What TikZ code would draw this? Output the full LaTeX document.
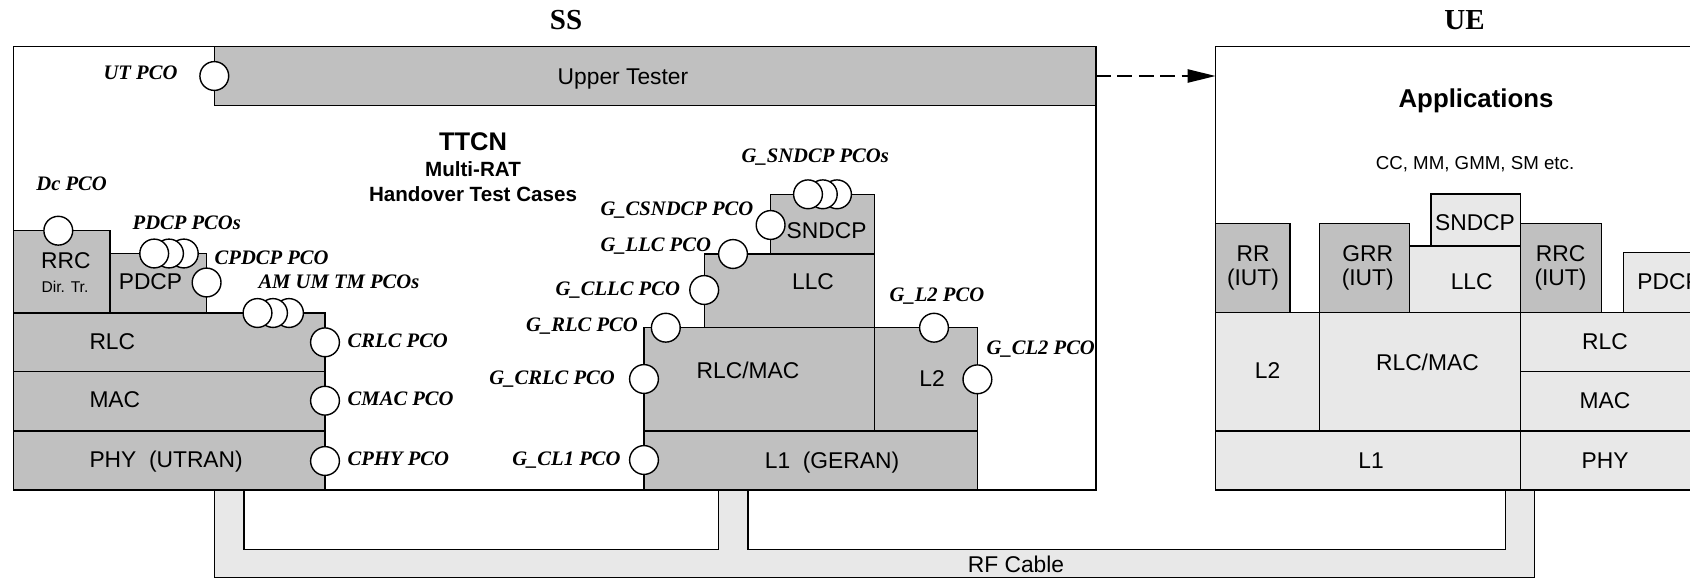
\documentclass[tikz,border=0pt]{standalone}
\usepackage{fontspec}
\setmainfont{Liberation Serif}
\newfontfamily\arialf{Liberation Sans}
\newfontfamily\timesf{Liberation Serif}
\usetikzlibrary{arrows.meta}
\definecolor{dg}{HTML}{C0C0C0}
\definecolor{lg}{HTML}{E8E8E8}
\begin{document}
\begin{tikzpicture}[x=0.5pt,y=-0.5pt,line width=0.7pt,
  lay/.style={draw=black,line width=0.7pt},
  lab/.style={font=\arialf\fontsize{11.4}{13.5}\selectfont,inner sep=0pt,text height=8.15pt,text depth=0pt},
  small/.style={font=\arialf\fontsize{7.8}{9}\selectfont,inner sep=0pt,text height=5.6pt,text depth=0pt},
  pco/.style={font=\timesf\bfseries\itshape\fontsize{10.3}{12}\selectfont,inner sep=0pt,text height=6.8pt,text depth=0pt,anchor=west},
  pc/.style={circle,draw=black,fill=white,inner sep=0pt,minimum size=14.4pt,line width=0.7pt},
  ttl/.style={font=\timesf\bfseries\fontsize{14.5}{17}\selectfont,inner sep=0pt,text height=9.6pt,text depth=0pt},
  bsans/.style={font=\arialf\bfseries\fontsize{10.3}{12}\selectfont,inner sep=0pt,text height=7.4pt,text depth=0pt},
]
\useasboundingbox (0,0) rectangle (1690,579);
% RF cable band
\fill[lg] (214.3,490) -- (214.3,577.7) -- (1534.6,577.7) -- (1534.6,490) -- (1505.7,490) -- (1505.7,549.3) -- (748,549.3) -- (748,490) -- (718.4,490) -- (718.4,549.3) -- (244,549.3) -- (244,490) -- cycle;
\draw (214.3,490) -- (214.3,577.7) -- (1534.6,577.7) -- (1534.6,490);
\draw (1505.7,490) -- (1505.7,549.3) -- (748,549.3) -- (748,490);
\draw (718.4,490) -- (718.4,549.3) -- (244,549.3) -- (244,490);
\node[lab] (rf) at (1016,564.3) {RF Cable};
% outer boxes
\draw[lay,fill=white] (13.2,46.7) rectangle (1096,490);
\draw[lay,fill=dg] (214.3,46.7) rectangle (1096,105.7);
\draw[lay,fill=white] (1215.5,46.7) rectangle (1760,490);
\node[ttl] (ss) at (566,19.5) {SS};
\node[ttl] (ue) at (1464.5,19.5) {UE};
\node[lab] (ut) at (623,76) {Upper Tester};
\coordinate (ssR) at (1096,76);
\coordinate (ueL) at (1215.5,76);
\draw[dash pattern=on 7.5pt off 3.2pt,-{Triangle[length=14pt,width=6.7pt]}] (ssR) -- (ueL);
% TTCN
\node[font=\arialf\bfseries\fontsize{12.75}{15}\selectfont,inner sep=0pt,text height=9.1pt,text depth=0pt] (ttcn) at (473,141.7) {TTCN};
\node[bsans] (mrat) at (473,169) {Multi-RAT};
\node[bsans] (hotc) at (473,194.3) {Handover Test Cases};
% UTRAN stack
\draw[lay,fill=dg] (13.2,230.7) rectangle (110,313);
\draw[lay,fill=dg] (110,253.5) rectangle (206.6,313);
\draw[lay,fill=dg] (13.2,313) rectangle (325,371.7);
\draw[lay,fill=dg] (13.2,371.7) rectangle (325,431);
\draw[lay,fill=dg] (13.2,431) rectangle (325,490);
\node[lab] (rrcS) at (65.8,260.5) {RRC};
\node[small] (dirtr) at (65,286.7) {Dir. Tr.};
\node[lab] (pdcpS) at (150.5,281.7) {PDCP};
\node[lab,anchor=west] (rlcS) at (88.8,341.3) {RLC};
\node[lab,anchor=west] (macS) at (88.8,399.5) {MAC};
\node[lab,anchor=west] (phyS) at (88.8,459.5) {PHY\ \ (UTRAN)};
% GERAN stack
\draw[lay,fill=dg] (770.6,194.3) rectangle (874.2,254);
\draw[lay,fill=dg] (704.2,254) rectangle (874.2,327.7);
\draw[lay,fill=dg] (644,327.7) rectangle (874.2,431);
\draw[lay,fill=dg] (874.2,327.7) rectangle (977.4,431);
\draw[lay,fill=dg] (644,431) rectangle (977.4,490);
\node[lab] (sndcpG) at (826.6,230) {SNDCP};
\node[lab] (llcG) at (813,281.7) {LLC};
\node[lab] (rlcmacG) at (748,370.7) {RLC/MAC};
\node[lab] (l2G) at (932,378.3) {L2};
\node[lab] (l1G) at (832,460) {L1\ \ (GERAN)};
% UE stack
\draw[lay,fill=dg] (1215.5,223.5) rectangle (1290,312.5);
\draw[lay,fill=dg] (1319.4,223.5) rectangle (1409.3,312.5);
\draw[lay,fill=lg] (1431,194) rectangle (1520.3,246);
\draw[lay,fill=lg] (1409.3,246) rectangle (1520.3,312.5);
\draw[lay,fill=dg] (1520.3,223.5) rectangle (1601.6,312.5);
\draw[lay,fill=lg] (1623.3,252.7) rectangle (1760,312.5);
\draw[lay,fill=lg] (1215.5,312.5) rectangle (1319.4,431);
\draw[lay,fill=lg] (1319.4,312.5) rectangle (1520.3,431);
\draw[lay,fill=lg] (1520.3,312.5) rectangle (1760,371.7);
\draw[lay,fill=lg] (1520.3,371.7) rectangle (1760,431);
\draw[lay,fill=lg] (1215.5,431) rectangle (1520.3,490);
\draw[lay,fill=lg] (1520.3,431) rectangle (1760,490);
\node[font=\arialf\bfseries\fontsize{12.9}{15}\selectfont,inner sep=0pt,text height=9.2pt,text depth=0pt] (apps) at (1476,98.7) {Applications};
\node[font=\arialf\fontsize{9.35}{11}\selectfont,inner sep=0pt,text height=6.7pt,text depth=0pt] (ccmm) at (1475,162.5) {CC, MM, GMM, SM etc.};
\node[lab] (rrU) at (1253,253.3) {RR};
\node[lab] (rrIut) at (1253,277) {(IUT)};
\node[lab] (grrU) at (1367.7,253.3) {GRR};
\node[lab] (grrIut) at (1367.7,277) {(IUT)};
\node[lab] (sndcpU) at (1475,222.5) {SNDCP};
\node[lab] (llcU) at (1471.7,281) {LLC};
\node[lab] (rrcU) at (1560.5,253.3) {RRC};
\node[lab] (rrcIut) at (1560.5,277) {(IUT)};
\node[lab,anchor=west] (pdcpU) at (1636.7,281.3) {PDCP};
\node[lab] (l2U) at (1267.5,370.7) {L2};
\node[lab] (rlcmacU) at (1427.4,362.7) {RLC/MAC};
\node[lab] (rlcU) at (1605,341) {RLC};
\node[lab] (macU) at (1605,400) {MAC};
\node[lab] (l1U) at (1371,460) {L1};
\node[lab] (phyU) at (1605,460) {PHY};
% PCO circles (SS, UTRAN side)
\node[pc] (cUT) at (214.3,76) {};
\node[pc] (cDc) at (58.3,230.7) {};
\node[pc] (cPd3) at (183.8,253.5) {};
\node[pc] (cPd2) at (169,253.5) {};
\node[pc] (cPd1) at (154.2,253.5) {};
\node[pc] (cCPd) at (206.6,282.5) {};
\node[pc] (cAm3) at (289,313) {};
\node[pc] (cAm2) at (273,313) {};
\node[pc] (cAm1) at (257.5,313) {};
\node[pc] (cCRlc) at (325,342.3) {};
\node[pc] (cCMac) at (325,400.7) {};
\node[pc] (cCPhy) at (325,461) {};
% PCO circles (GERAN side)
\node[pc] (cSn3) at (837,194.3) {};
\node[pc] (cSn2) at (822.8,194.3) {};
\node[pc] (cSn1) at (808,194.3) {};
\node[pc] (cCSn) at (770.6,225) {};
\node[pc] (cLlc) at (733,254) {};
\node[pc] (cCLlc) at (704.2,290) {};
\node[pc] (cRlc) at (665.8,327.7) {};
\node[pc] (cL2) at (934,327.7) {};
\node[pc] (cCL2) at (977.4,379.3) {};
\node[pc] (cGCRlc) at (644,379) {};
\node[pc] (cCL1) at (644,460) {};
% PCO labels
\node[pco] (tUT) at (102.9,73) {UT PCO};
\node[pco] (tDc) at (35.7,184) {Dc PCO};
\node[pco] (tPd) at (132,223) {PDCP PCOs};
\node[pco] (tCPd) at (214,258) {CPDCP PCO};
\node[pco] (tAm) at (257.8,282) {AM UM TM PCOs};
\node[pco] (tCRlc) at (347,340.7) {CRLC PCO};
\node[pco] (tCMac) at (347,399) {CMAC PCO};
\node[pco] (tCPhy) at (347,459) {CPHY PCO};
\node[pco] (tSn) at (741,156) {G\_SNDCP PCOs};
\node[pco] (tCSn) at (599.8,209) {G\_CSNDCP PCO};
\node[pco] (tLlc) at (599.8,245) {G\_LLC PCO};
\node[pco] (tCLlc) at (555,288.5) {G\_CLLC PCO};
\node[pco] (tRlc) at (525.5,325) {G\_RLC PCO};
\node[pco] (tGCRlc) at (488.7,377.3) {G\_CRLC PCO};
\node[pco] (tCL1) at (511.6,458.3) {G\_CL1 PCO};
\node[pco] (tL2) at (889,295) {G\_L2 PCO};
\node[pco] (tCL2) at (986,347.7) {G\_CL2 PCO};
\end{tikzpicture}
\end{document}
